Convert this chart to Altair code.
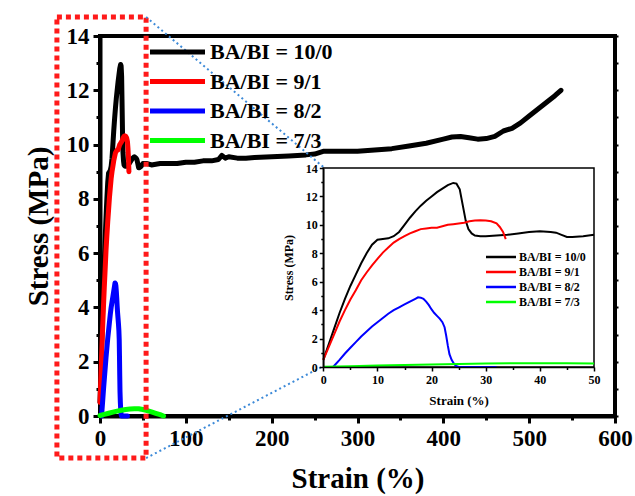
import altair as alt
import pandas as pd

FONT = "Liberation Serif"

series_labels = ["BA/BI = 10/0", "BA/BI = 9/1", "BA/BI = 8/2", "BA/BI = 7/3"]
series_colors = ["#000000", "#ff0000", "#0000ff", "#00ff00"]

strain_10_0 = [0, 1, 2, 3, 4, 5, 6, 7, 8, 9, 10, 11, 12, 13, 14, 15, 16, 17, 18, 19, 20, 21, 22, 23, 24,
               24.6, 25.2, 25.8, 26.3, 26.8, 27.4, 28, 29, 30, 32, 34, 36, 38, 40, 42, 43, 44, 45, 46, 48, 50,
               55, 60, 70, 80, 90, 100, 110, 120, 130, 138, 142, 146, 150, 160, 170, 180, 200, 220, 240, 250,
               260, 280, 300, 320, 340, 360, 380, 400, 410, 420, 430, 440, 450, 460, 470, 480, 490, 500, 510,
               520, 530, 537]
stress_10_0 = [0.5, 1.6, 2.7, 3.8, 4.8, 5.7, 6.5, 7.3, 8.0, 8.6, 8.95, 9.0, 9.05, 9.2, 9.5, 10.0, 10.5, 10.95,
               11.35, 11.7, 12.0, 12.3, 12.55, 12.8, 12.95,
               12.9, 12.5, 11.3, 10.3, 9.7, 9.4, 9.25, 9.2, 9.2, 9.25, 9.3, 9.4, 9.5, 9.55, 9.5, 9.45, 9.3, 9.15,
               9.15, 9.2, 9.3,
               9.3, 9.25, 9.3, 9.3, 9.3, 9.35, 9.35, 9.4, 9.4, 9.45, 9.6, 9.5, 9.55, 9.5, 9.5, 9.52, 9.55, 9.58,
               9.62, 9.65, 9.75, 9.75, 9.75, 9.8, 9.85, 9.95, 10.05, 10.2, 10.28, 10.3, 10.25, 10.2, 10.22, 10.3,
               10.5, 10.6, 10.8, 11.05, 11.3, 11.55, 11.8, 12.0]

strain_9_1 = [0, 1, 2, 3, 4, 5, 6, 7, 8, 9, 10, 11, 12, 13, 14, 15, 16, 17, 18, 19, 20, 21, 22, 23, 24, 25,
              26, 27, 28, 29, 30, 31, 32, 32.6, 33.2, 33.7]
stress_9_1 = [0.5, 1.4, 2.3, 3.2, 4.0, 4.75, 5.4, 6.1, 6.65, 7.15, 7.6, 8.05, 8.4, 8.75, 9.0, 9.2, 9.4, 9.55,
              9.7, 9.75, 9.8, 9.8, 9.9, 10.0, 10.05, 10.1, 10.15, 10.25, 10.3, 10.32, 10.3, 10.25, 10.1, 9.85,
              9.5, 9.0]

strain_8_2 = [1.8, 3, 4, 5, 6, 7, 8, 9, 10, 11, 12, 13, 14, 15, 16, 17, 17.5, 18, 18.5, 19, 19.5, 20, 20.5, 21,
              21.5, 22, 22.4, 22.7, 23, 23.3, 23.7, 24.1, 24.5, 25, 28, 32]
stress_8_2 = [0, 0.5, 0.95, 1.35, 1.75, 2.15, 2.5, 2.85, 3.15, 3.45, 3.75, 4.0, 4.2, 4.4, 4.6, 4.8, 4.9, 4.88,
              4.8, 4.6, 4.35, 4.05, 3.8, 3.6, 3.4, 3.15, 2.8, 2.2, 1.5, 0.9, 0.5, 0.25, 0.08, 0.0, 0.0, 0.0]

strain_7_3 = [0, 5, 10, 15, 20, 25, 30, 35, 40, 45, 50, 55, 60, 65, 70, 74]
stress_7_3 = [0.02, 0.06, 0.1, 0.14, 0.18, 0.21, 0.24, 0.26, 0.27, 0.27, 0.24, 0.2, 0.15, 0.1, 0.05, 0.0]

# main axes
main_x_domain = [0, 600]
main_y_domain = [0, 14]
main_x_ticks = list(range(0, 601, 50))
main_y_ticks = list(range(0, 15))

# inset axes
inset_x_domain = [0, 50]
inset_y_domain = [0, 14]
inset_x_ticks = list(range(0, 51, 5))
inset_y_ticks = list(range(0, 15))

# zoom box and connector lines (main-plot data units)
box_x = [-50.2, 53.7]
box_y = [-1.55, 14.7]
link_from_x = [53.7, 53.7]
link_from_y = [14.7, -1.55]
link_to_x = [260.3, 260.3]
link_to_y = [9.17, 1.84]

frames = []
for lab, xs, ys in zip(series_labels,
                       [strain_10_0, strain_9_1, strain_8_2, strain_7_3],
                       [stress_10_0, stress_9_1, stress_8_2, stress_7_3]):
    frames.append(pd.DataFrame({"series": lab, "strain": xs, "stress": ys, "idx": list(range(len(xs)))}))
df = pd.concat(frames, ignore_index=True)


def cond(test, a, b):
    return {"condition": {"test": test, "value": a}, "value": b}


txt = dict(labelFont=FONT, labelFontWeight="bold", labelColor="black", titleFont=FONT,
           titleFontWeight="bold", titleColor="black", grid=False, labelFlush=False,
           domainColor="black", tickColor="black")

main_x_axis = alt.Axis(values=main_x_ticks, labelExpr="datum.value % 100 === 0 ? datum.label : ''",
                       tickSize=cond("datum.value % 100 === 0", 7, 4), tickWidth=3, domainWidth=4,
                       labelFontSize=23, labelPadding=4, title="Strain (%)", titleFontSize=29,
                       titlePadding=14, **txt)
main_y_axis = alt.Axis(values=main_y_ticks, labelExpr="datum.value % 2 === 0 ? datum.label : ''",
                       tickSize=cond("datum.value % 2 === 0", 7, 4), tickWidth=3, domainWidth=4,
                       labelFontSize=23, labelPadding=4, title="Stress (MPa)", titleFontSize=29,
                       titlePadding=13, **txt)

mx = alt.Scale(domain=main_x_domain, nice=False, zero=False)
my = alt.Scale(domain=main_y_domain, nice=False, zero=False)

main_legend = alt.Legend(orient="none", legendX=66.5, legendY=5, title=None, padding=0,
                         symbolType="M-10,0H10", symbolSize=30.25, symbolStrokeWidth=5,
                         labelFont=FONT, labelFontSize=22, labelFontWeight="bold", labelColor="black",
                         labelOffset=21.5, rowPadding=7.5, symbolOffset=0, labelLimit=300)

main_lines = alt.Chart(df).mark_line(strokeWidth=5, strokeJoin="round", strokeCap="round").encode(
    x=alt.X("strain:Q", scale=mx, axis=main_x_axis),
    y=alt.Y("stress:Q", scale=my, axis=main_y_axis),
    color=alt.Color("series:N", scale=alt.Scale(domain=series_labels, range=series_colors), legend=main_legend),
    order="idx:Q",
)

box_df = pd.DataFrame({"x0": [box_x[0]], "x1": [box_x[1]], "y0": [box_y[0]], "y1": [box_y[1]]})
red_box = alt.Chart(box_df).mark_rect(filled=False, stroke="#ff1a1a", strokeWidth=5, strokeDash=[5, 4]).encode(
    x=alt.X("x0:Q", scale=mx, axis=main_x_axis), x2=alt.X2("x1"),
    y=alt.Y("y0:Q", scale=my, axis=main_y_axis), y2=alt.Y2("y1"),
)

link_df = pd.DataFrame({"xa": link_from_x, "ya": link_from_y, "xb": link_to_x, "yb": link_to_y})
links = alt.Chart(link_df).mark_rule(color="#3d8ad8", strokeWidth=2, strokeDash=[2, 3]).encode(
    x=alt.X("xa:Q", scale=mx, axis=main_x_axis), x2=alt.X2("xb"),
    y=alt.Y("ya:Q", scale=my, axis=main_y_axis), y2=alt.Y2("yb"),
)

main_layer = alt.layer(main_lines, red_box, links)

# ---- inset ----
ix = alt.Scale(domain=inset_x_domain, range=[223.3, 494], nice=False, zero=False)
iy = alt.Scale(domain=inset_y_domain, range=[331, 132], nice=False, zero=False)

inset_x_axis = alt.Axis(orient="bottom", offset=-49, zindex=2, values=inset_x_ticks,
                        labelExpr="datum.value % 10 === 0 ? datum.label : ''",
                        tickSize=cond("datum.value % 10 === 0", 4, 2.5), tickWidth=1.5, domainWidth=1.5,
                        labelFontSize=12, labelPadding=3, title="Strain (%)", titleFontSize=13,
                        titlePadding=9, **txt)
inset_y_axis = alt.Axis(orient="left", offset=-223.3, zindex=2, values=inset_y_ticks,
                        labelExpr="datum.value % 2 === 0 ? datum.label : ''",
                        tickSize=cond("datum.value % 2 === 0", 4, 2.5), tickWidth=1.5, domainWidth=1.5,
                        labelFontSize=12, labelPadding=2, title="Stress (MPa)", titleFontSize=12,
                        titlePadding=10, **txt)

inset_box_df = pd.DataFrame({"x0": [inset_x_domain[0]], "x1": [inset_x_domain[1]],
                             "y0": [inset_y_domain[0]], "y1": [inset_y_domain[1]]})
inset_bg = alt.Chart(inset_box_df).mark_rect(fill="white", stroke="black", strokeWidth=1.5).encode(
    x=alt.X("x0:Q", scale=ix, axis=inset_x_axis), x2=alt.X2("x1"),
    y=alt.Y("y0:Q", scale=iy, axis=inset_y_axis), y2=alt.Y2("y1"),
)

inset_legend = alt.Legend(orient="none", legendX=395, legendY=215, title=None, padding=0,
                          symbolType="M-10,0H10", symbolSize=9, symbolStrokeWidth=2.5,
                          labelFont=FONT, labelFontSize=12, labelFontWeight="bold", labelColor="black",
                          labelOffset=12, rowPadding=3, symbolOffset=0, labelLimit=300)

inset_lines = alt.Chart(df).transform_filter("datum.strain <= 50").mark_line(strokeWidth=2).encode(
    x=alt.X("strain:Q", scale=ix, axis=inset_x_axis),
    y=alt.Y("stress:Q", scale=iy, axis=inset_y_axis),
    color=alt.Color("series:N", scale=alt.Scale(domain=series_labels, range=series_colors), legend=inset_legend),
    order="idx:Q",
)

inset_layer = alt.layer(inset_bg, inset_lines)

# right-hand mirrored ticks
right_ticks = alt.Chart(pd.DataFrame({"v": [0]})).mark_point(opacity=0).encode(
    y=alt.Y("v:Q", scale=alt.Scale(domain=main_y_domain, nice=False, zero=False),
            axis=alt.Axis(orient="right", values=main_y_ticks, labels=False, title=None, domain=False,
                          tickSize=3, tickWidth=2, tickColor="black", grid=False))
)

chart = alt.layer(main_layer, inset_layer, right_ticks).resolve_scale(
    x="independent", y="independent", color="independent"
).properties(
    width=515, height=380,
    autosize=alt.AutoSizeParams(type="none"),
    padding={"left": 100, "top": 36, "right": 20, "bottom": 80},
    background="white",
).configure_view(stroke="black", strokeWidth=4)

chart.save("out.html", embed_options={"renderer": "svg", "actions": False})
